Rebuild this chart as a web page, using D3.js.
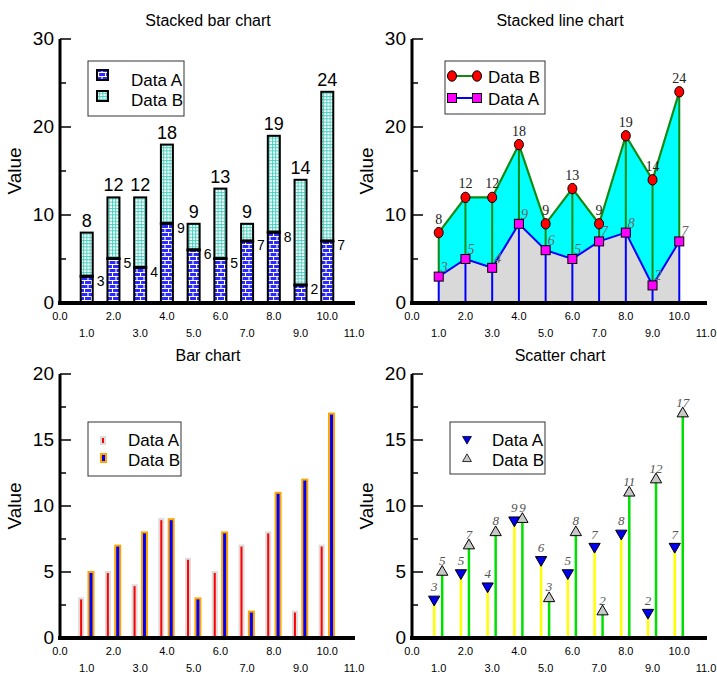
<!DOCTYPE html>
<html lang="en">
<head>
<meta charset="UTF-8">
<title>Four charts</title>
<script src="https://d3js.org/d3.v7.min.js"></script>
<style>
    body { margin: 0; background: #fff; }
    svg { display: block; }
    .sans { font-family: "Liberation Sans Narrow", "Liberation Sans", Arial, sans-serif; }
    .serif { font-family: "Liberation Serif", "DejaVu Serif", serif; }
</style>
</head>
<body>
<script>
    // data
    const xValues = [1, 2, 3, 4, 5, 6, 7, 8, 9, 10];
    const dataA = [3, 5, 4, 9, 6, 5, 7, 8, 2, 7];
    const dataB = [5, 7, 8, 9, 3, 8, 2, 11, 12, 17];
    const xTicks = [0, 1, 2, 3, 4, 5, 6, 7, 8, 9, 10, 11];
    const topMajor = [0, 10, 20, 30];
    const topMinor = [5, 15, 25];
    const bottomMajor = [0, 5, 10, 15, 20];
    const bottomMinor = [2.5, 7.5, 12.5, 17.5];
    const titles = ["Stacked bar chart", "Stacked line chart", "Bar chart", "Scatter chart"];

    const totals = dataA.map((a, i) => a + dataB[i]);

    const svg = d3.select("body").append("svg")
        .attr("width", 717).attr("height", 674);

    // patterns for the stacked bars
    const defs = svg.append("defs");
    const brick = defs.append("pattern").attr("id", "brick")
        .attr("patternUnits", "userSpaceOnUse").attr("width", 7).attr("height", 8);
    brick.append("rect").attr("width", 7).attr("height", 8).attr("fill", "#2a2aff");
    brick.append("path").attr("d", "M0,0.5H7M0,4.5H7M0.5,0V4.5M4,4.5V8")
        .attr("stroke", "#fff").attr("stroke-width", 1.1);
    const grid = defs.append("pattern").attr("id", "grid")
        .attr("patternUnits", "userSpaceOnUse").attr("width", 3.2).attr("height", 3.2);
    grid.append("rect").attr("width", 3.2).attr("height", 3.2).attr("fill", "#fff");
    grid.append("path").attr("d", "M0,0.5H3.2M0.5,0V3.2")
        .attr("stroke", "#48d0c0").attr("stroke-width", 1);

    function makePanel(left, bottom, top, yMax, major, minor, title) {
        const x = d3.scaleLinear().domain([0, 11]).range([left, left + 294]);
        const y = d3.scaleLinear().domain([0, yMax]).range([bottom, top]);
        const g = svg.append("g");

        g.append("text").attr("class", "sans")
            .attr("x", left + 148).attr("y", top - 13)
            .attr("text-anchor", "middle").attr("font-size", 16)
            .style("font-family", "Liberation Sans, Arial, sans-serif")
            .text(title);

        g.append("text").attr("class", "sans")
            .attr("transform", `translate(${left - 39},${(top + bottom) / 2}) rotate(-90)`)
            .attr("text-anchor", "middle").attr("font-size", 19)
            .text("Value");

        // y ticks (pointing inside)
        g.selectAll(".maj").data(major).enter().append("line")
            .attr("x1", left).attr("x2", left + 11)
            .attr("y1", d => y(d)).attr("y2", d => y(d))
            .attr("stroke", "#000").attr("stroke-width", 1.5);
        g.selectAll(".min").data(minor).enter().append("line")
            .attr("x1", left).attr("x2", left + 6)
            .attr("y1", d => y(d)).attr("y2", d => y(d))
            .attr("stroke", "#000").attr("stroke-width", 1.5);
        g.selectAll(".ylab").data(major).enter().append("text")
            .attr("class", "sans")
            .attr("x", left - 6).attr("y", d => y(d) + 6)
            .attr("text-anchor", "end").attr("font-size", 19)
            .text(d => d);

        // x tick labels in two rows
        g.selectAll(".xlab").data(xTicks).enter().append("text")
            .attr("class", "sans")
            .attr("x", d => x(d))
            .attr("y", d => bottom + (d % 2 === 0 ? 17 : 34))
            .attr("text-anchor", "middle").attr("font-size", 11)
            .text(d => d.toFixed(1));

        const axes = svg.append("g").attr("class", "axes");
        axes.append("line").attr("x1", left).attr("x2", left)
            .attr("y1", top).attr("y2", bottom)
            .attr("stroke", "#000").attr("stroke-width", 3);
        axes.append("line").attr("x1", left - 2).attr("x2", left + 295)
            .attr("y1", bottom).attr("y2", bottom)
            .attr("stroke", "#000").attr("stroke-width", 4);

        return {x, y, g, axes};
    }

    function legendBox(g, x0, y0, w, h) {
        g.append("rect").attr("x", x0).attr("y", y0).attr("width", w).attr("height", h)
            .attr("fill", "#fff").attr("stroke", "#333").attr("stroke-width", 1);
    }

    // ---------- stacked bar chart ----------
    {
        const p = makePanel(60, 303, 39, 30, topMajor, topMinor, titles[0]);
        const {x, y, g} = p;
        const bw = 12;
        g.selectAll(".bB").data(xValues).enter().append("rect")
            .attr("x", d => x(d) - bw / 2).attr("width", bw)
            .attr("y", (d, i) => y(totals[i]))
            .attr("height", (d, i) => y(dataA[i]) - y(totals[i]))
            .attr("fill", "url(#grid)").attr("stroke", "#000").attr("stroke-width", 2);
        g.selectAll(".bA").data(xValues).enter().append("rect")
            .attr("x", d => x(d) - bw / 2).attr("width", bw)
            .attr("y", (d, i) => y(dataA[i]))
            .attr("height", (d, i) => y(0) - y(dataA[i]))
            .attr("fill", "url(#brick)").attr("stroke", "#000").attr("stroke-width", 2);
        g.selectAll(".sep").data(xValues).enter().append("line")
            .attr("x1", d => x(d) - bw / 2 - 1).attr("x2", d => x(d) + bw / 2 + 1)
            .attr("y1", (d, i) => y(dataA[i]) - 0.5).attr("y2", (d, i) => y(dataA[i]) - 0.5)
            .attr("stroke", "#000").attr("stroke-width", 3);
        g.selectAll(".tl").data(xValues).enter().append("text")
            .attr("class", "sans")
            .attr("x", d => x(d)).attr("y", (d, i) => y(totals[i]) - 6)
            .attr("text-anchor", "middle").attr("font-size", 18)
            .text((d, i) => totals[i]);
        g.selectAll(".al").data(xValues).enter().append("text")
            .attr("class", "sans")
            .attr("x", d => x(d) + bw / 2 + 4).attr("y", (d, i) => y(dataA[i]) + 9)
            .attr("font-size", 14)
            .text((d, i) => dataA[i]);

        legendBox(g, 88, 61, 96, 55);
        g.append("rect").attr("x", 97).attr("y", 70).attr("width", 11).attr("height", 10)
            .attr("fill", "url(#brick)").attr("stroke", "#000").attr("stroke-width", 2);
        g.append("rect").attr("x", 97).attr("y", 91).attr("width", 11).attr("height", 10)
            .attr("fill", "url(#grid)").attr("stroke", "#000").attr("stroke-width", 2);
        g.append("text").attr("class", "sans").attr("x", 131).attr("y", 86)
            .attr("font-size", 17).text("Data A");
        g.append("text").attr("class", "sans").attr("x", 131).attr("y", 106)
            .attr("font-size", 17).text("Data B");
    }

    // ---------- stacked line chart ----------
    {
        const p = makePanel(412, 303, 39, 30, topMajor, topMinor, titles[1]);
        const {x, y, g} = p;
        const areaA = d3.area().x(d => x(d)).y0(y(0)).y1((d, i) => y(dataA[i]));
        const areaB = d3.area().x(d => x(d)).y0((d, i) => y(dataA[i])).y1((d, i) => y(totals[i]));
        g.append("path").datum(xValues).attr("d", areaA).attr("fill", "#d9d9d9");
        g.append("path").datum(xValues).attr("d", areaB).attr("fill", "#00ffff");

        g.selectAll(".dropB").data(xValues).enter().append("line")
            .attr("x1", d => x(d)).attr("x2", d => x(d))
            .attr("y1", (d, i) => y(totals[i])).attr("y2", (d, i) => y(dataA[i]))
            .attr("stroke", "#108a10").attr("stroke-width", 2);
        g.selectAll(".dropA").data(xValues).enter().append("line")
            .attr("x1", d => x(d)).attr("x2", d => x(d))
            .attr("y1", (d, i) => y(dataA[i])).attr("y2", y(0))
            .attr("stroke", "#0000ff").attr("stroke-width", 2);

        const lineA = d3.line().x(d => x(d)).y((d, i) => y(dataA[i]));
        const lineB = d3.line().x(d => x(d)).y((d, i) => y(totals[i]));
        g.append("path").datum(xValues).attr("d", lineA)
            .attr("fill", "none").attr("stroke", "#0000ff").attr("stroke-width", 2);
        g.append("path").datum(xValues).attr("d", lineB)
            .attr("fill", "none").attr("stroke", "#108a10").attr("stroke-width", 2.2);

        g.selectAll(".mB").data(xValues).enter().append("ellipse")
            .attr("cx", d => x(d)).attr("cy", (d, i) => y(totals[i]))
            .attr("rx", 4.5).attr("ry", 5.2)
            .attr("fill", "#ff0000").attr("stroke", "#000").attr("stroke-width", 1);
        g.selectAll(".mA").data(xValues).enter().append("rect")
            .attr("x", d => x(d) - 4.5).attr("y", (d, i) => y(dataA[i]) - 4.5)
            .attr("width", 9).attr("height", 9)
            .attr("fill", "#ff00ff").attr("stroke", "#000").attr("stroke-width", 1);

        g.selectAll(".tB").data(xValues).enter().append("text")
            .attr("class", "serif")
            .attr("x", d => x(d)).attr("y", (d, i) => y(totals[i]) - 9)
            .attr("text-anchor", "middle").attr("font-size", 14).attr("fill", "#222")
            .text((d, i) => totals[i]);
        g.selectAll(".tA").data(xValues).enter().append("text")
            .attr("class", "serif")
            .attr("x", d => x(d) + 2).attr("y", (d, i) => y(dataA[i]) - 5)
            .attr("font-size", 14).attr("font-style", "italic").attr("fill", "#666")
            .text((d, i) => dataA[i]);

        legendBox(g, 445, 61, 100, 53);
        g.append("line").attr("x1", 452).attr("x2", 477).attr("y1", 76).attr("y2", 76)
            .attr("stroke", "#108a10").attr("stroke-width", 2);
        g.selectAll(".lgB").data([452, 477]).enter().append("ellipse")
            .attr("cx", d => d).attr("cy", 76).attr("rx", 4.5).attr("ry", 5.2)
            .attr("fill", "#ff0000").attr("stroke", "#000").attr("stroke-width", 1);
        g.append("line").attr("x1", 452).attr("x2", 477).attr("y1", 98).attr("y2", 98)
            .attr("stroke", "#0000ff").attr("stroke-width", 2);
        g.selectAll(".lgA").data([452, 477]).enter().append("rect")
            .attr("x", d => d - 4.5).attr("y", 93.5).attr("width", 9).attr("height", 9)
            .attr("fill", "#ff00ff").attr("stroke", "#000").attr("stroke-width", 1);
        g.append("text").attr("class", "sans").attr("x", 488).attr("y", 83)
            .attr("font-size", 17).text("Data B");
        g.append("text").attr("class", "sans").attr("x", 488).attr("y", 105)
            .attr("font-size", 17).text("Data A");
    }

    // ---------- bar chart ----------
    {
        const p = makePanel(60, 638, 374, 20, bottomMajor, bottomMinor, titles[2]);
        const {x, y, g} = p;
        g.selectAll(".rA").data(xValues).enter().append("rect")
            .attr("x", d => x(d - 0.21) - 2).attr("width", 4)
            .attr("y", (d, i) => y(dataA[i]))
            .attr("height", (d, i) => y(0) - y(dataA[i]))
            .attr("fill", "#ff0000").attr("stroke", "#dcdcdc").attr("stroke-width", 2);
        g.selectAll(".rB").data(xValues).enter().append("rect")
            .attr("x", d => x(d + 0.16) - 2.5).attr("width", 5)
            .attr("y", (d, i) => y(dataB[i]))
            .attr("height", (d, i) => y(0) - y(dataB[i]))
            .attr("fill", "#0000ff").attr("stroke", "#ffa500").attr("stroke-width", 2);

        legendBox(g, 88, 422, 93, 54);
        g.append("rect").attr("x", 101).attr("y", 437).attr("width", 4).attr("height", 7)
            .attr("fill", "#ff0000").attr("stroke", "#dcdcdc").attr("stroke-width", 2);
        g.append("rect").attr("x", 101).attr("y", 454).attr("width", 5).attr("height", 8)
            .attr("fill", "#0000ff").attr("stroke", "#ffa500").attr("stroke-width", 2);
        g.append("text").attr("class", "sans").attr("x", 128).attr("y", 446)
            .attr("font-size", 17).text("Data A");
        g.append("text").attr("class", "sans").attr("x", 128).attr("y", 466)
            .attr("font-size", 17).text("Data B");
    }

    // ---------- scatter chart ----------
    {
        const p = makePanel(412, 638, 374, 20, bottomMajor, bottomMinor, titles[3]);
        const {x, y, g} = p;
        g.selectAll(".sA").data(xValues).enter().append("line")
            .attr("x1", d => x(d - 0.17)).attr("x2", d => x(d - 0.17))
            .attr("y1", y(0)).attr("y2", (d, i) => y(dataA[i]))
            .attr("stroke", "#ffff00").attr("stroke-width", 2.5);
        g.selectAll(".sB").data(xValues).enter().append("line")
            .attr("x1", d => x(d + 0.13)).attr("x2", d => x(d + 0.13))
            .attr("y1", y(0)).attr("y2", (d, i) => y(dataB[i]))
            .attr("stroke", "#00e000").attr("stroke-width", 2.5);

        const tri = d3.symbol().type(d3.symbolTriangle).size(55);
        g.selectAll(".pA").data(xValues).enter().append("path")
            .attr("d", tri)
            .attr("transform", (d, i) => `translate(${x(d - 0.17)},${y(dataA[i]) + 1}) rotate(180)`)
            .attr("fill", "#0000ee").attr("stroke", "#000").attr("stroke-width", 1);
        g.selectAll(".pB").data(xValues).enter().append("path")
            .attr("d", tri)
            .attr("transform", (d, i) => `translate(${x(d + 0.13)},${y(dataB[i])})`)
            .attr("fill", "#c8c8c8").attr("stroke", "#000").attr("stroke-width", 1);

        g.selectAll(".lA").data(xValues).enter().append("text")
            .attr("class", "serif")
            .attr("x", d => x(d - 0.17)).attr("y", (d, i) => y(dataA[i]) - 7)
            .attr("text-anchor", "middle").attr("font-size", 13)
            .attr("font-style", "italic").attr("fill", "#555")
            .text((d, i) => dataA[i]);
        g.selectAll(".lB").data(xValues).enter().append("text")
            .attr("class", "serif")
            .attr("x", d => x(d + 0.13)).attr("y", (d, i) => y(dataB[i]) - 7)
            .attr("text-anchor", "middle").attr("font-size", 13)
            .attr("font-style", "italic").attr("fill", "#555")
            .text((d, i) => dataB[i]);

        legendBox(g, 450, 422, 95, 52);
        const tri2 = d3.symbol().type(d3.symbolTriangle).size(34);
        g.append("path").attr("d", tri2).attr("transform", "translate(467,439) rotate(180)")
            .attr("fill", "#0000ee").attr("stroke", "#000").attr("stroke-width", 0.8);
        g.append("path").attr("d", tri2).attr("transform", "translate(467,459)")
            .attr("fill", "#c8c8c8").attr("stroke", "#000").attr("stroke-width", 0.8);
        g.append("text").attr("class", "sans").attr("x", 492).attr("y", 446)
            .attr("font-size", 17).text("Data A");
        g.append("text").attr("class", "sans").attr("x", 492).attr("y", 466)
            .attr("font-size", 17).text("Data B");
    }
</script>
</body>
</html>
